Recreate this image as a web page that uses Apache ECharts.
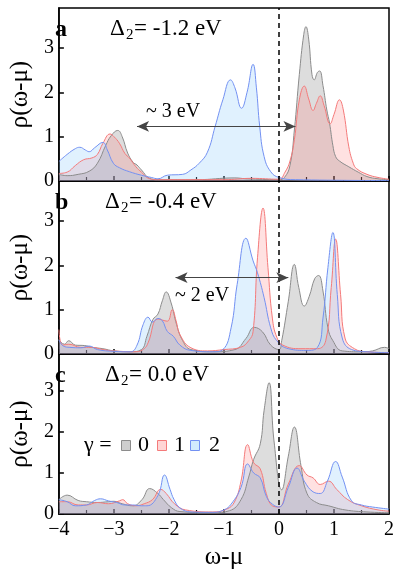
<!DOCTYPE html>
<html>
<head>
<meta charset="utf-8">
<script src="https://cdn.jsdelivr.net/npm/echarts@6/dist/echarts.min.js"></script>
<style>
  html, body { margin: 0; padding: 0; background: #fff; }
  #chart { width: 399px; height: 571px; }
</style>
</head>
<body>
<div id="chart"></div>
<script>
// spectral functions rho(w-mu) as [w-mu, rho]
// panel a : Delta2 = -1.2 eV
const a0 = [[-4,0.15],[-3.85,0.12],[-3.65,0.15],[-3.45,0.22],[-3.3,0.4],[-3.15,0.8],[-3.05,1.02],[-2.93,1.14],[-2.85,1.0],[-2.75,0.63],[-2.65,0.42],[-2.58,0.36],[-2.5,0.25],[-2.35,0.06],[-2.2,0.03],[-1.5,0.03],[-0.8,0.07],[-0.6,0.05],[0,0.03],[0.1,0.08],[0.2,0.35],[0.28,1.15],[0.37,2.4],[0.45,3.3],[0.49,3.48],[0.54,3.2],[0.6,2.4],[0.64,2.28],[0.7,2.45],[0.74,2.48],[0.8,2.15],[0.87,1.6],[0.92,1.3],[0.98,0.8],[1.03,0.55],[1.1,0.45],[1.27,0.32],[1.44,0.2],[1.6,0.1],[1.8,0.05],[2,0.03]]
const a1 = [[-4,0.17],[-3.85,0.2],[-3.7,0.35],[-3.55,0.48],[-3.4,0.52],[-3.3,0.6],[-3.2,0.85],[-3.07,1.06],[-3.0,1.0],[-2.9,0.85],[-2.8,0.62],[-2.72,0.52],[-2.6,0.32],[-2.5,0.2],[-2.35,0.05],[-2.2,0.03],[-1,0.03],[-0.5,0.06],[0,0.04],[0.11,0.2],[0.2,0.45],[0.28,0.93],[0.37,1.83],[0.46,2.14],[0.54,1.85],[0.62,1.59],[0.68,1.75],[0.75,1.92],[0.82,1.7],[0.93,1.29],[1.0,1.5],[1.1,1.83],[1.17,1.6],[1.27,0.77],[1.35,0.4],[1.41,0.28],[1.6,0.15],[1.8,0.08],[2,0.04]]
const a2 = [[-4,0.44],[-3.85,0.6],[-3.7,0.73],[-3.62,0.76],[-3.52,0.7],[-3.45,0.66],[-3.35,0.75],[-3.2,0.87],[-3.12,0.7],[-3.01,0.4],[-2.9,0.3],[-2.72,0.21],[-2.5,0.13],[-2.32,0.08],[-2.2,0.05],[-2.03,0.13],[-1.75,0.15],[-1.6,0.25],[-1.45,0.4],[-1.3,0.65],[-1.16,1.23],[-1.02,1.83],[-0.88,2.28],[-0.8,2.1],[-0.68,1.64],[-0.58,2.0],[-0.47,2.63],[-0.41,2.1],[-0.35,1.23],[-0.27,0.55],[-0.15,0.21],[0,0.08],[0.3,0.03],[2,0.01]]
// panel b : Delta2 = -0.4 eV
const b0 = [[-4,0.32],[-3.9,0.22],[-3.82,0.3],[-3.7,0.2],[-3.53,0.19],[-3.4,0.15],[-3.2,0.12],[-3.0,0.07],[-2.7,0.05],[-2.5,0.1],[-2.4,0.4],[-2.29,0.78],[-2.2,0.9],[-2.12,1.2],[-2.05,1.4],[-1.96,1.15],[-1.86,0.66],[-1.75,0.3],[-1.6,0.1],[-1.2,0.05],[-0.8,0.1],[-0.6,0.35],[-0.45,0.6],[-0.3,0.5],[-0.15,0.2],[0,0.1],[0.05,0.3],[0.17,1.19],[0.28,2.02],[0.36,1.5],[0.46,1.08],[0.55,1.3],[0.65,1.7],[0.72,1.77],[0.8,1.42],[0.89,0.59],[0.98,0.3],[1.15,0.07],[1.5,0.05],[1.7,0.07],[1.92,0.15],[2,0.12]]
const b1 = [[-4,0.55],[-3.93,0.2],[-3.82,0.22],[-3.6,0.15],[-3.4,0.15],[-3.2,0.1],[-3,0.07],[-2.6,0.05],[-2.45,0.12],[-2.38,0.25],[-2.2,0.79],[-2.03,0.74],[-1.94,1.0],[-1.87,0.75],[-1.8,0.44],[-1.6,0.14],[-1.3,0.07],[-1,0.1],[-0.7,0.15],[-0.55,0.3],[-0.47,0.51],[-0.39,2.17],[-0.29,3.29],[-0.2,1.95],[-0.12,0.81],[-0.04,0.38],[0.07,0.2],[0.4,0.12],[0.7,0.12],[0.85,0.3],[0.95,1.5],[1.03,2.59],[1.12,1.34],[1.2,0.36],[1.37,0.12],[1.6,0.05],[2,0.03]]
const b2 = [[-4,0.32],[-3.92,0.18],[-3.8,0.15],[-3.6,0.14],[-3.45,0.18],[-3.3,0.1],[-3,0.06],[-2.7,0.05],[-2.58,0.2],[-2.47,0.66],[-2.38,0.83],[-2.3,0.72],[-2.2,0.8],[-2.12,0.75],[-2.03,0.51],[-1.92,0.4],[-1.8,0.2],[-1.6,0.08],[-1.2,0.05],[-1.02,0.1],[-0.87,0.59],[-0.76,1.57],[-0.6,2.61],[-0.47,2.1],[-0.39,1.83],[-0.27,1.27],[-0.15,0.59],[-0.04,0.3],[0.17,0.12],[0.5,0.08],[0.7,0.15],[0.8,0.81],[0.89,1.95],[0.98,2.74],[1.06,1.34],[1.15,0.36],[1.32,0.1],[1.6,0.05],[2,0.03]]
// panel c : Delta2 = 0.0 eV
const c0 = [[-4,0.35],[-3.85,0.46],[-3.65,0.33],[-3.5,0.3],[-3.3,0.28],[-3.1,0.3],[-3.0,0.31],[-2.85,0.25],[-2.66,0.2],[-2.49,0.35],[-2.35,0.62],[-2.2,0.5],[-2.1,0.35],[-1.95,0.15],[-1.8,0.06],[-1.2,0.03],[-0.9,0.08],[-0.69,0.35],[-0.55,0.9],[-0.46,1.33],[-0.34,1.71],[-0.27,2.53],[-0.18,3.2],[-0.09,1.78],[0.05,0.59],[0.17,1.41],[0.28,2.12],[0.4,1.18],[0.51,0.5],[0.68,0.28],[0.9,0.2],[1.2,0.1],[1.6,0.05],[2,0.03]]
const c1 = [[-4,0.3],[-3.85,0.3],[-3.65,0.22],[-3.5,0.22],[-3.3,0.28],[-3.1,0.25],[-2.9,0.32],[-2.84,0.35],[-2.75,0.25],[-2.6,0.2],[-2.45,0.25],[-2.3,0.35],[-2.15,0.6],[-2.05,0.5],[-1.9,0.25],[-1.7,0.1],[-1.2,0.05],[-0.95,0.12],[-0.81,0.29],[-0.69,0.8],[-0.57,1.69],[-0.46,1.25],[-0.34,1.1],[-0.23,0.5],[-0.12,0.2],[0,0.17],[0.17,0.73],[0.37,1.18],[0.51,0.95],[0.62,0.88],[0.75,0.72],[0.9,0.8],[1.05,0.6],[1.25,0.35],[1.5,0.2],[1.8,0.1],[2,0.07]]
const c2 = [[-4,0.35],[-3.85,0.3],[-3.7,0.2],[-3.5,0.22],[-3.35,0.33],[-3.24,0.37],[-3.1,0.32],[-2.95,0.28],[-2.8,0.22],[-2.66,0.22],[-2.5,0.2],[-2.4,0.2],[-2.2,0.45],[-2.08,0.95],[-1.98,0.6],[-1.91,0.36],[-1.8,0.15],[-1.6,0.05],[-1.2,0.04],[-1,0.1],[-0.87,0.24],[-0.69,0.65],[-0.57,1.22],[-0.46,1.0],[-0.34,0.88],[-0.23,0.43],[-0.12,0.24],[0,0.17],[0.17,0.65],[0.33,1.12],[0.46,0.8],[0.62,0.54],[0.75,0.5],[0.88,0.8],[1.03,1.28],[1.15,0.9],[1.32,0.32],[1.5,0.22],[1.7,0.17],[2,0.12]]

const panelData = [[a0, a1, a2], [b0, b1, b2], [c0, c1, c2]]
const panelLetters = ['a', 'b', 'c']
const deltaLabels = ['= -1.2 eV', '= -0.4 eV', '= 0.0 eV']
const gammaNames = ['0', '1', '2']
// gap arrows: [start, end] in data coords, panel index, label
const gapArrows = [
  { panel: 0, from: [-2.58, 1.23], to: [0.3, 1.23], label: '~ 3 eV' },
  { panel: 1, from: [-1.88, 1.72], to: [0.17, 1.72], label: '~ 2 eV' }
]

const FONT = 'Liberation Serif'
const lineColors = ['#8c8c8c', '#f47a7a', '#7391f2']
const fillColors = ['rgba(120,120,120,0.36)', 'rgba(255,115,115,0.3)', 'rgba(130,200,250,0.36)']

const chart = echarts.init(document.getElementById('chart'))

const gridTops = [8, 181, 354]
const gridH = 173

const grids = gridTops.map(t => ({
  left: 43, width: 346, top: t, height: gridH,
  show: true, borderColor: '#000', borderWidth: 1.5
}))

const xAxes = gridTops.map((t, i) => ({
  type: 'value', gridIndex: i, min: -4, max: 2, interval: 1,
  axisLine: { onZero: false, lineStyle: { color: '#000', width: 1.5 } },
  axisTick: { inside: true, length: 5, lineStyle: { color: '#000', width: 1.5 } },
  minorTick: { show: true, splitNumber: 2, length: 4, lineStyle: { color: '#000', width: 1.2 } },
  splitLine: { show: false },
  axisLabel: {
    show: i === 2, fontFamily: FONT, fontSize: 20, color: '#000', margin: 6,
    formatter: v => (v < 0 ? '\u2212' + (-v) : String(v))
  },
  name: i === 2 ? 'ω-μ' : '',
  nameLocation: 'middle', nameGap: 31,
  nameTextStyle: { fontFamily: FONT, fontSize: 25, color: '#000' }
}))

const yAxes = gridTops.map((t, i) => ({
  type: 'value', gridIndex: i, min: 0, max: 3.9, interval: 1,
  axisLine: { onZero: false, lineStyle: { color: '#000', width: 1.5 } },
  axisTick: { inside: true, length: 5, lineStyle: { color: '#000', width: 1.5 } },
  splitLine: { show: false },
  axisLabel: { fontFamily: FONT, fontSize: 20, color: '#000', margin: 5, showMaxLabel: false,
    formatter: v => (Number.isInteger(v) ? String(v) : '') },
  name: 'ρ(ω-μ)', nameLocation: 'middle', nameGap: 21, nameRotate: 90,
  nameTextStyle: { fontFamily: FONT, fontSize: 25, color: '#000' }
}))

const series = []
panelData.forEach((curves, p) => {
  curves.forEach((d, g) => {
    const s = {
      type: 'line', name: gammaNames[g], xAxisIndex: p, yAxisIndex: p,
      data: d, showSymbol: false, smooth: 0.45,
      lineStyle: { color: lineColors[g], width: 1 },
      itemStyle: { color: lineColors[g] },
      areaStyle: { color: fillColors[g] },
      silent: true, animation: false
    }
    if (g === 0) {
      s.markLine = {
        silent: true, symbol: 'none', label: { show: false },
        lineStyle: { color: '#000', type: [5, 4], width: 1.5 },
        data: [{ xAxis: 0 }]
      }
    }
    const arr = gapArrows.find(a => a.panel === p)
    if (g === 1 && arr) {
      s.markLine = {
        silent: true, symbol: ['arrow', 'arrow'], symbolSize: [8, 12],
        label: { show: false },
        lineStyle: { color: '#444', type: 'solid', width: 1 },
        data: [[{ coord: arr.from }, { coord: arr.to }]]
      }
    }
    series.push(s)
  })
})

const graphic = []
panelLetters.forEach((l, p) => {
  const t = gridTops[p]
  graphic.push({ type: 'text', left: 55, top: t + 10,
    style: { text: l, font: 'bold 24px ' + FONT, fill: '#000' } })
  const dx = p === 0 ? 110 : 105
  graphic.push({ type: 'text', left: dx, top: t + 9,
    style: { text: 'Δ', font: '23px ' + FONT, fill: '#000' } })
  graphic.push({ type: 'text', left: dx + 16, top: t + 20,
    style: { text: '2', font: '15px ' + FONT, fill: '#000' } })
  graphic.push({ type: 'text', left: dx + 24, top: t + 9,
    style: { text: deltaLabels[p], font: '23px ' + FONT, fill: '#000' } })
})
gapArrows.forEach((a, i) => {
  const pos = i === 0 ? [146, 102] : [175, 286]
  graphic.push({ type: 'text', left: pos[0], top: pos[1],
    style: { text: a.label, font: '20px ' + FONT, fill: '#000' } })
})

// legend  γ = [] 0 [] 1 [] 2
graphic.push({ type: 'text', left: 84, top: 434, style: { text: 'γ =', font: '22px ' + FONT, fill: '#000' } })
const boxX = [121, 157, 190]
const numX = [138, 174, 209]
gammaNames.forEach((n, g) => {
  graphic.push({ type: 'rect', left: boxX[g], top: 440,
    shape: { width: 9, height: 10 },
    style: { fill: fillColors[g], stroke: lineColors[g], lineWidth: 1 } })
  graphic.push({ type: 'text', left: numX[g], top: 434, style: { text: n, font: '22px ' + FONT, fill: '#000' } })
})

chart.setOption({
  animation: false,
  grid: grids,
  xAxis: xAxes,
  yAxis: yAxes,
  series: series,
  graphic: graphic
})
</script>
</body>
</html>
